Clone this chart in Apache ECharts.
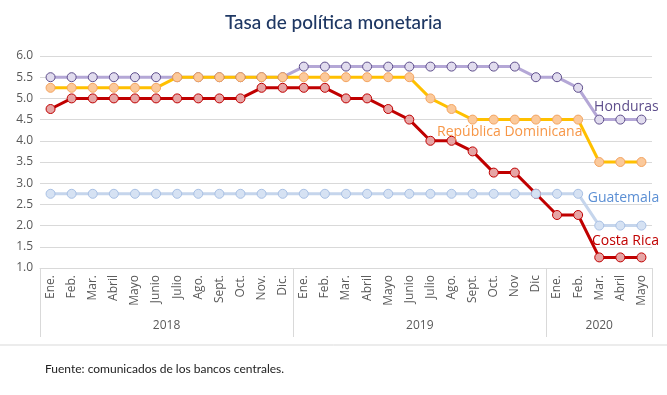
<!DOCTYPE html>
<html><head><meta charset="utf-8">
<script src="https://cdn.jsdelivr.net/npm/echarts@6/dist/echarts.min.js"></script>
<style>html,body{margin:0;padding:0;background:#fff}#c{width:667px;height:395px}</style>
</head><body><div id="c"></div>
<script>
const months = ['Ene.','Feb.','Mar.','Abril','Mayo','Junio','Julio','Ago.','Sept.','Oct.','Nov.','Dic.',
  'Ene.','Feb.','Mar.','Abril','Mayo','Junio','Julio','Ago.','Sept.','Oct.','Nov','Dic',
  'Ene.','Feb.','Mar.','Abril','Mayo'];
const years = ['2018','2019','2020'];
const yearStart = [0, 12, 24];
const yearLen = [12, 12, 5];
const yTicks = [1.0, 6.0, 0.5]; // min, max, interval

const honduras = [5.5,5.5,5.5,5.5,5.5,5.5,5.5,5.5,5.5,5.5,5.5,5.5,
  5.75,5.75,5.75,5.75,5.75,5.75,5.75,5.75,5.75,5.75,5.75,5.5,
  5.5,5.25,4.5,4.5,4.5];
const dominicana = [5.25,5.25,5.25,5.25,5.25,5.25,5.5,5.5,5.5,5.5,5.5,5.5,
  5.5,5.5,5.5,5.5,5.5,5.5,5.0,4.75,4.5,4.5,4.5,4.5,
  4.5,4.5,3.5,3.5,3.5];
const costaRica = [4.75,5.0,5.0,5.0,5.0,5.0,5.0,5.0,5.0,5.0,5.25,5.25,
  5.25,5.25,5.0,5.0,4.75,4.5,4.0,4.0,3.75,3.25,3.25,2.75,
  2.25,2.25,1.25,1.25,1.25];
const guatemala = [2.75,2.75,2.75,2.75,2.75,2.75,2.75,2.75,2.75,2.75,2.75,2.75,
  2.75,2.75,2.75,2.75,2.75,2.75,2.75,2.75,2.75,2.75,2.75,2.75,
  2.75,2.75,2.0,2.0,2.0];
const names = ['Honduras','República Dominicana','Costa Rica','Guatemala'];

const FONT = '"Open Sans", "Noto Sans", sans-serif';

function withLabel(vals, idx, text, color, offset) {
  return vals.map((v, i) => i === idx ? {
    value: v,
    label: { show: true, position: 'inside', formatter: text, color: color,
      fontSize: 14, fontFamily: FONT, offset: offset }
  } : v);
}

function mkSeries(name, vals, lineColor, fill, border, labelIdx, labelColor, offset) {
  return {
    name: name, type: 'line', xAxisIndex: 0,
    data: withLabel(vals, labelIdx, name, labelColor, offset),
    symbol: 'circle', symbolSize: 9,
    lineStyle: { color: lineColor, width: 3 },
    itemStyle: { color: fill, borderColor: border, borderWidth: 1 },
    label: { show: false },
    emphasis: { disabled: true },
    animation: false
  };
}

const chart = echarts.init(document.getElementById('c'), null, { renderer: 'canvas' });
chart.setOption({
  backgroundColor: '#fff',
  animation: false,
  title: {
    text: 'Tasa de política monetaria', left: 'center', top: 8,
    textStyle: { color: '#1F3864', fontSize: 19, fontWeight: 500, fontFamily: '"Lato", "Noto Sans", sans-serif' }
  },
  grid: { left: 40, right: 15, top: 56, bottom: 127 },
  xAxis: [{
    type: 'category', data: months, boundaryGap: true, position: 'bottom',
    axisLine: { show: true, lineStyle: { color: '#D9D9D9' } },
    axisTick: { show: false },
    axisLabel: { interval: 0, rotate: 90, color: '#595959', fontSize: 12, fontFamily: FONT, margin: 7 }
  }, {
    type: 'category', data: months, boundaryGap: true, position: 'bottom', offset: 0,
    axisLine: { show: false },
    axisTick: { show: true, length: 69, lineStyle: { color: '#D9D9D9' },
      interval: (i) => yearStart.indexOf(i) >= 0 },
    axisLabel: {
      interval: (i) => {
        for (let k = 0; k < years.length; k++) {
          if (i === yearStart[k] + Math.floor((yearLen[k] - 1) / 2)) return true;
        }
        return false;
      },
      formatter: (v, i) => {
        for (let k = 0; k < years.length; k++) {
          if (i === yearStart[k] + Math.floor((yearLen[k] - 1) / 2)) {
            return yearLen[k] % 2 === 0 ? '{s|' + years[k] + '}' : '{c|' + years[k] + '}';
          }
        }
        return '';
      },
      margin: 52, color: '#595959', fontSize: 12, fontFamily: FONT,
      rich: {
        s: { padding: [0, 0, 0, 21], color: '#595959', fontSize: 12, fontFamily: FONT },
        c: { color: '#595959', fontSize: 12, fontFamily: FONT }
      }
    }
  }],
  yAxis: {
    type: 'value', min: yTicks[0], max: yTicks[1], interval: yTicks[2],
    axisLine: { show: false }, axisTick: { show: false },
    axisLabel: { formatter: (v) => v.toFixed(1), color: '#595959', fontSize: 12, fontFamily: FONT, margin: 7 },
    splitLine: { lineStyle: { color: '#D9D9D9' } }
  },
  series: [
    mkSeries(names[0], honduras, '#B4A7D6', '#E1DCEE', '#5E4E8C', 28, '#5E4E8C', [-15, -13]),
    mkSeries(names[1], dominicana, '#FFC000', '#FBC99B', '#F4A460', 21, '#F79646', [16, 12]),
    mkSeries(names[2], costaRica, '#C00000', '#E6A5A5', '#C00000', 28, '#C00000', [-16, -16]),
    mkSeries(names[3], guatemala, '#C5D5EC', '#D6E2F3', '#A9C1E5', 28, '#5B8FD4', [-18, -28])
  ],
  graphic: [
    { type: 'line', shape: { x1: 0, y1: 345, x2: 667, y2: 345 }, style: { stroke: '#D9D9D9', lineWidth: 1 } },
    { type: 'text', left: 45, top: 363, style: { text: 'Fuente: comunicados de los bancos centrales.', fill: '#222', fontSize: 12, fontFamily: '"Lato", "Noto Sans", sans-serif' } }
  ]
});
</script>
</body></html>
